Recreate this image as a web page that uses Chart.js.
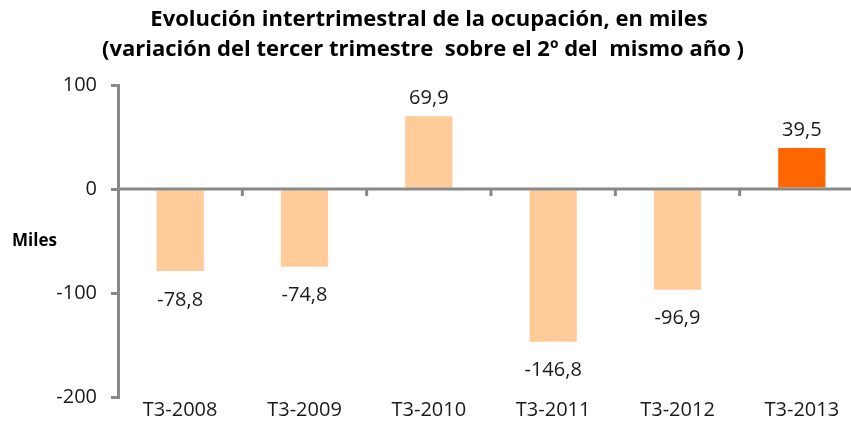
<!DOCTYPE html>
<html>
<head>
<meta charset="utf-8">
<script src="https://cdn.jsdelivr.net/npm/chart.js@4"></script>
<style>
  html, body { margin: 0; padding: 0; background: #fff; overflow: hidden; }
  #wrap { width: 864px; height: 446px; }
</style>
</head>
<body>
<div id="wrap"><canvas id="myChart"></canvas></div>
<script>
var categorias = ['T3-2008', 'T3-2009', 'T3-2010', 'T3-2011', 'T3-2012', 'T3-2013']
var variacion = [-78.8, -74.8, 69.9, -146.8, -96.9, 39.5]
var tituloLineas = ['Evolución intertrimestral de la ocupación, en miles', '(variación del tercer trimestre  sobre el 2º del  mismo año )']
var ejeTitulo = 'Miles'

var GRIS = '#898989'
var MELOCOTON = '#FFCC99'
var NARANJA = '#FF6600'
var FUENTE = "'Open Sans', sans-serif"

// plugin: titulo, "Miles", linea del cero y etiquetas de valor
var extras = {
  id: 'extras',
  afterDatasetsDraw(chart) {
    var ctx = chart.ctx
    var area = chart.chartArea
    var y = chart.scales.y
    var x = chart.scales.x
    var y0 = y.getPixelForValue(0)

    ctx.save()
    ctx.strokeStyle = GRIS
    ctx.lineWidth = 3
    ctx.beginPath()
    ctx.moveTo(area.left, y0)
    ctx.lineTo(area.right, y0)
    ctx.stroke()
    for (var i = 1; i < categorias.length; i++) {
      var xb = (x.getPixelForTick(i - 1) + x.getPixelForTick(i)) / 2
      ctx.beginPath()
      ctx.moveTo(xb, y0)
      ctx.lineTo(xb, y0 + 7)
      ctx.stroke()
    }

    // etiquetas
    ctx.fillStyle = '#1a1a1a'
    ctx.font = '20px ' + FUENTE
    ctx.textAlign = 'center'
    ctx.textBaseline = 'middle'
    chart.getDatasetMeta(0).data.forEach(function (bar, i) {
      var v = variacion[i]
      var txt = v.toFixed(1).replace('.', ',')
      ctx.fillText(txt, bar.x, v >= 0 ? bar.y - 18 : bar.y + 29)
    })

    // titulo
    ctx.fillStyle = '#000'
    ctx.font = 'bold 22px ' + FUENTE
    ctx.fillText(tituloLineas[0], 429, 20)
    ctx.fillText(tituloLineas[1], 423, 50)

    ctx.font = 'bold 17px ' + FUENTE
    ctx.textAlign = 'left'
    ctx.fillText(ejeTitulo, 12, (area.top + area.bottom) / 2)
    ctx.restore()
  }
}

const ctx = document.getElementById('myChart')
new Chart(ctx, {
  type: 'bar',
  data: {
    labels: categorias,
    datasets: [{
      data: variacion,
      backgroundColor: variacion.map((v, i) => i === variacion.length - 1 ? NARANJA : MELOCOTON),
      borderWidth: 0,
      barPercentage: 0.38,
      categoryPercentage: 1
    }]
  },
  options: {
    responsive: true,
    maintainAspectRatio: false,
    animation: false,
    layout: { padding: { top: 85, left: 0, right: 0, bottom: 0 } },
    plugins: {
      legend: { display: false },
      tooltip: { enabled: false },
      title: { display: false }
    },
    scales: {
      x: {
        grid: { display: false, drawTicks: false },
        border: { display: false },
        ticks: { color: '#1a1a1a', font: { family: FUENTE, size: 20 }, padding: 1 },
        afterFit: function (s) { s.height = 49 }
      },
      y: {
        min: -200,
        max: 100,
        ticks: { stepSize: 100, color: '#1a1a1a', font: { family: FUENTE, size: 20 }, padding: 14 },
        grid: { drawOnChartArea: false, drawTicks: true, tickLength: 7, color: GRIS, lineWidth: 3 },
        border: { display: true, color: GRIS, width: 3 },
        afterFit: function (s) { s.width = 118 }
      }
    }
  },
  plugins: [extras]
})
</script>
</body>
</html>
